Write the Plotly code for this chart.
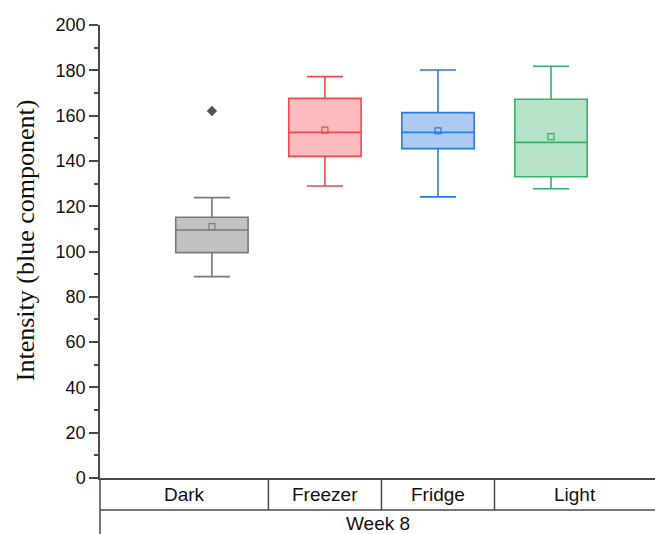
import plotly.graph_objects as go

categories = ["Dark", "Freezer", "Fridge", "Light"]
q1 = [99.5, 142.0, 145.4, 133.0]
median = [109.5, 152.6, 152.6, 148.2]
q3 = [115.1, 167.6, 161.3, 167.2]
lower = [88.9, 128.9, 124.1, 127.7]
upper = [123.8, 177.2, 180.1, 181.8]
means = [111.0, 153.6, 153.3, 150.7]
outlier_cat = ["Dark"]
outlier_val = [162.0]
group_label = "Week 8"

line_colors = ["#7a7a7a", "#f0484f", "#2a7be0", "#35b36a"]
fill_colors = ["#c2c2c2", "#fdbbbd", "#adcbf1", "#b6e2c8"]

fig = go.Figure()
for i, c in enumerate(categories):
    fig.add_trace(go.Box(
        x=[c], q1=[q1[i]], median=[median[i]], q3=[q3[i]],
        lowerfence=[lower[i]], upperfence=[upper[i]],
        width=0.64, whiskerwidth=0.5,
        fillcolor=fill_colors[i],
        line=dict(color=line_colors[i], width=1.6),
        boxpoints=False, showlegend=False,
    ))
    fig.add_trace(go.Scatter(
        x=[c], y=[means[i]], mode="markers",
        marker=dict(symbol="square-open", size=6, color=line_colors[i], line=dict(width=1.2)),
        showlegend=False,
    ))

fig.add_trace(go.Scatter(
    x=outlier_cat, y=outlier_val, mode="markers",
    marker=dict(symbol="diamond", size=8, color="#555555"),
    showlegend=False,
))

xr = [-0.99, 3.92]
axc = "#4a4a4a"
txt = "#111111"
fig.update_layout(
    width=655, height=534,
    margin=dict(l=100, r=0, t=25, b=56),
    plot_bgcolor="white", paper_bgcolor="white",
    boxmode="overlay",
    xaxis=dict(range=xr, showline=True, linecolor=axc, linewidth=1.5,
               showticklabels=False, ticks="", showgrid=False, zeroline=False,
               type="category", categoryorder="array", categoryarray=categories),
    yaxis=dict(range=[0, 200], dtick=20, showline=True, linecolor=axc, linewidth=1.5,
               ticks="outside", ticklen=9, tickwidth=1.5, tickcolor=axc,
               minor=dict(ticks="outside", ticklen=4, tickwidth=1.5, tickcolor=axc, dtick=10),
               showgrid=False, zeroline=False,
               tickfont=dict(family="Liberation Sans, Arial", size=18, color=txt)),
)

ph = 534 - 25 - 56
row1 = -32 / ph
row2 = -56 / ph
shapes = [
    dict(type="line", xref="paper", yref="paper", x0=0, x1=0, y0=0, y1=row2,
         line=dict(color=axc, width=1.5)),
    dict(type="line", xref="paper", yref="paper", x0=0, x1=1, y0=row1, y1=row1,
         line=dict(color=axc, width=1.5)),
]
for k in range(len(categories) - 1):
    shapes.append(dict(type="line", xref="x", yref="paper", x0=k + 0.5, x1=k + 0.5,
                       y0=0, y1=row1, line=dict(color=axc, width=1.5)))
fig.update_layout(shapes=shapes)

annotations = []
bounds = [xr[0]] + [k + 0.5 for k in range(len(categories) - 1)] + [xr[1]]
for k, c in enumerate(categories):
    annotations.append(dict(x=(bounds[k] + bounds[k + 1]) / 2, y=row1 / 2, xref="x", yref="paper",
                            text=c, showarrow=False, yanchor="middle",
                            font=dict(family="Liberation Sans, Arial", size=19, color=txt)))
annotations.append(dict(x=0.5, y=(row1 + row2) / 2 - 0.004, xref="paper", yref="paper",
                        text=group_label, showarrow=False, yanchor="middle",
                        font=dict(family="Liberation Sans, Arial", size=19, color=txt)))
annotations.append(dict(x=0, xshift=-75, y=0.525, xref="paper", yref="paper",
                        text="Intensity (blue component)", textangle=-90, showarrow=False,
                        xanchor="center", yanchor="middle",
                        font=dict(family="Liberation Serif, Times New Roman", size=26, color=txt)))
fig.update_layout(annotations=annotations)

fig.write_html("out.html")
